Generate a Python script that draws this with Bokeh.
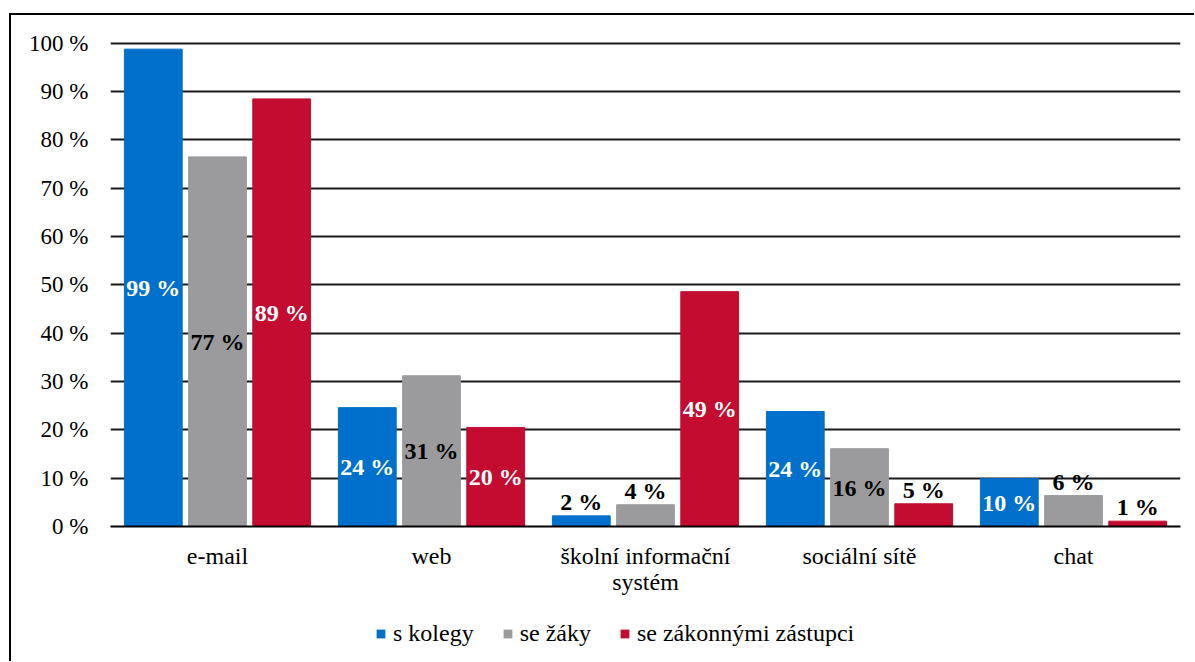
from bokeh.plotting import figure
from bokeh.layouts import column
from bokeh.models import (Range1d, FixedTicker, Legend, LegendItem,
                          ColumnDataSource, LinearAxis)
from bokeh.transform import dodge
from bokeh.core.properties import value
from bokeh.embed import file_html
from bokeh.resources import INLINE

# ---- data ----
categories = ["e-mail", "web", "školní informační systém", "sociální sítě", "chat"]
category_line1 = ["e-mail", "web", "školní informační", "sociální sítě", "chat"]
category_line2 = ["", "", "systém", "", ""]
series_names = ["s kolegy", "se žáky", "se zákonnými zástupci"]
kolegy = [98.8, 24.6, 2.2, 23.8, 9.9]
zaky = [76.5, 31.2, 4.5, 16.1, 6.4]
zastupci = [88.5, 20.5, 48.6, 4.7, 1.1]
kolegy_labels = [99, 24, 2, 24, 10]
zaky_labels = [77, 31, 4, 16, 6]
zastupci_labels = [89, 20, 49, 5, 1]
y_ticks = [0, 10, 20, 30, 40, 50, 60, 70, 80, 90, 100]

# ---- style ----
colors = ["#0070CD", "#9B9B9D", "#C40C31"]
inside_text_colors = ["white", "black", "white"]
offsets = [-0.3, 0.0, 0.3]
bar_width = 0.27
FONT = "Liberation Serif"
W = 1183

xpos = [i + 0.5 for i in range(len(categories))]

p = figure(x_range=Range1d(0, len(categories)), y_range=Range1d(0, 101),
           width=W, height=590, output_backend="svg", toolbar_location=None,
           min_border_left=99, min_border_right=14, min_border_top=23,
           min_border_bottom=79)
p.outline_line_color = None
p.background_fill_color = "white"
p.border_fill_color = "white"

# grid
p.xgrid.grid_line_color = None
p.ygrid.ticker = FixedTicker(ticks=y_ticks)
p.ygrid.grid_line_color = "#1a1a1a"
p.ygrid.grid_line_width = 2

# y axis
p.yaxis.ticker = FixedTicker(ticks=y_ticks)
p.yaxis.major_label_overrides = {t: f"{t} %" for t in y_ticks}
p.yaxis.axis_line_color = None
p.yaxis.major_tick_line_color = None
p.yaxis.minor_tick_line_color = None
p.yaxis.major_tick_out = 0
p.yaxis.major_label_standoff = 22
p.yaxis.major_label_text_font = FONT
p.yaxis.major_label_text_font_size = "23px"
p.yaxis.major_label_text_color = "black"


def style_x_axis(ax, labels, standoff, line):
    ax.ticker = FixedTicker(ticks=xpos, minor_ticks=[])
    ax.major_label_overrides = dict(zip(xpos, labels))
    ax.axis_line_color = "black" if line else None
    ax.axis_line_width = 2
    ax.major_tick_line_color = None
    ax.minor_tick_line_color = None
    ax.major_tick_out = 0
    ax.major_tick_in = 0
    ax.minor_tick_out = 0
    ax.major_label_standoff = standoff
    ax.major_label_text_font = FONT
    ax.major_label_text_font_size = "24px"
    ax.major_label_text_color = "black"


style_x_axis(p.below[0], category_line1, 16, True)
ax2 = LinearAxis()
style_x_axis(ax2, category_line2, -3, False)
p.add_layout(ax2, "below")

all_values = [kolegy, zaky, zastupci]
all_labels = [kolegy_labels, zaky_labels, zastupci_labels]
for i, name in enumerate(series_names):
    src = ColumnDataSource(dict(x=xpos, val=all_values[i]))
    p.vbar(x=dodge("x", offsets[i]), top="val", width=bar_width, source=src,
           fill_color=colors[i], line_color=colors[i], line_width=1)

    in_x, in_y, in_t = [], [], []
    out_x, out_y, out_t = [], [], []
    for xx, v, lab in zip(xpos, all_values[i], all_labels[i]):
        if v >= 9:
            in_x.append(xx); in_y.append(v / 2); in_t.append(f"{lab} %")
        else:
            out_x.append(xx); out_y.append(v); out_t.append(f"{lab} %")
    s_in = ColumnDataSource(dict(x=in_x, y=in_y, t=in_t))
    p.text(x=dodge("x", offsets[i]), y="y", text="t",
           source=s_in, text_align="center", text_baseline="middle",
           text_font=value(FONT), text_font_size="24px", text_font_style="bold",
           text_color=inside_text_colors[i])
    s_out = ColumnDataSource(dict(x=out_x, y=out_y, t=out_t))
    p.text(x=dodge("x", offsets[i]), y="y", text="t",
           source=s_out, text_align="center", text_baseline="middle",
           y_offset=-14, text_font=value(FONT), text_font_size="24px",
           text_font_style="bold", text_color="black")

# ---- legend strip ----
pl = figure(width=W, height=56, x_range=Range1d(0, 1), y_range=Range1d(0, 1),
            output_backend="svg", toolbar_location=None, min_border=0)
pl.axis.visible = False
pl.grid.visible = False
pl.outline_line_color = None
pl.background_fill_color = "white"
pl.border_fill_color = "white"
items = []
for i, name in enumerate(series_names):
    r = pl.vbar(x="x", top="val", width=0.01,
                source=ColumnDataSource(dict(x=[0.5], val=[0.0])),
                fill_color=colors[i], line_color=None)
    items.append(LegendItem(label=name, renderers=[r]))
legend = Legend(items=items, location=(265, 14), orientation="horizontal",
                padding=0, margin=0, spacing=28, label_standoff=7,
                glyph_width=11, glyph_height=11,
                label_text_font=FONT, label_text_font_size="24px",
                label_text_color="black",
                border_line_color=None, background_fill_alpha=0)
pl.add_layout(legend)

layout = column(p, pl, spacing=0)
layout.styles = {"position": "relative", "left": "9px", "top": "13px",
                 "border-left": "2px solid black", "border-top": "2px solid black"}

open("out.html", "w").write(file_html(layout, INLINE))
